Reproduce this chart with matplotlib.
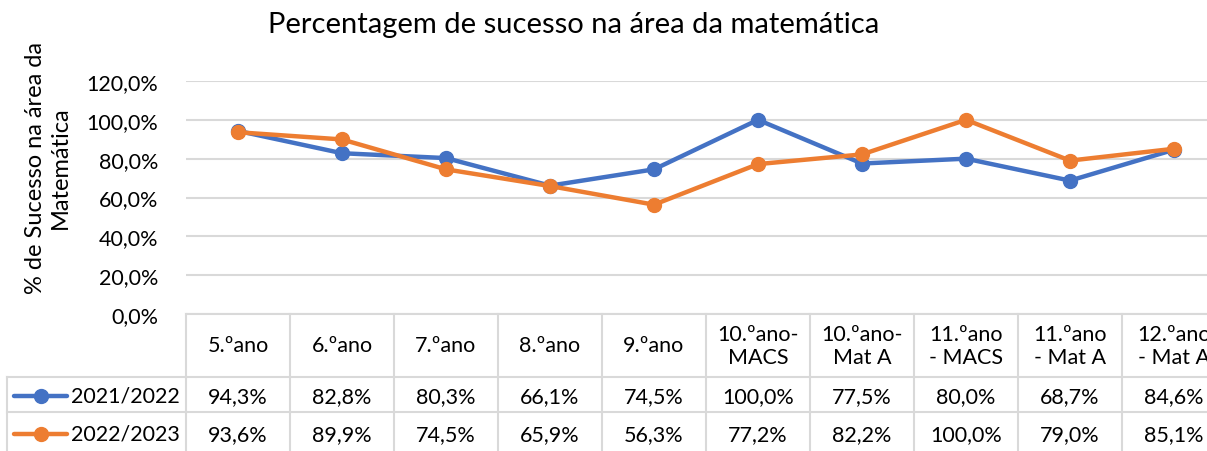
import matplotlib
matplotlib.use("Agg")
import matplotlib.pyplot as plt
from matplotlib.transforms import blended_transform_factory

plt.rcParams['font.family'] = ['Lato', 'DejaVu Sans']

categories = ["5.ºano", "6.ºano", "7.ºano", "8.ºano", "9.ºano",
              "10.ºano-\nMACS", "10.ºano-\nMat A", "11.ºano\n- MACS",
              "11.ºano\n- Mat A", "12.ºano\n- Mat A"]
series_names = ["2021/2022", "2022/2023"]
s2122 = [94.3, 82.8, 80.3, 66.1, 74.5, 100.0, 77.5, 80.0, 68.7, 84.6]
s2223 = [93.6, 89.9, 74.5, 65.9, 56.3, 77.2, 82.2, 100.0, 79.0, 85.1]
colors = ["#4472C4", "#ED7D31"]
yticks = [0, 20, 40, 60, 80, 100, 120]

W, H = 1207, 452
fig = plt.figure(figsize=(W / 100, H / 100), dpi=100)
fs = 15.5

# plot area in pixels: x from 186, category width 104 px; y 0% at 315, 120% at 82
left, cw = 186, 104
y0, y120 = 315, 82
ax = fig.add_axes([left / W, (H - y0) / H, len(categories) * cw / W, (y0 - y120) / H])
ax.set_xlim(-0.5, len(categories) - 0.5)
ax.set_ylim(0, 120)
ax.set_yticks(yticks)
ax.set_yticklabels([f"{v:.1f}%".replace(".", ",") for v in yticks], fontsize=fs)
ax.set_xticks([])
for s in ax.spines.values():
    s.set_visible(False)
ax.tick_params(axis="y", length=0, pad=20)
ax.grid(axis="y", color="#d9d9d9", linewidth=1.5)
ax.set_axisbelow(True)

x = list(range(len(categories)))
for vals, c in zip([s2122, s2223], colors):
    ax.plot(x, vals, color=c, linewidth=3.2, marker="o", markersize=10,
            solid_capstyle="round", zorder=3)

fx = lambda px: px / W
fy = lambda py: 1 - py / H

fig.text(fx(48), fy(168), "% de Sucesso na área da\nMatemática", fontsize=17,
         rotation=90, ha="center", va="center", linespacing=1.2)

fig.text(fx(574), fy(25), "Percentagem de sucesso na área da matemática",
         fontsize=21, ha="center", va="center")

# data table below the plot
tr = blended_transform_factory(ax.transData, fig.transFigure)
gc = "#d9d9d9"
row_top, row1, row2, row_bot = 315, 378, 413, 460
xr = len(categories) - 0.5
for i in range(len(categories) + 1):
    ax.plot([i - 0.5, i - 0.5], [fy(row_top), fy(row_bot)], transform=tr,
            color=gc, linewidth=1.5, clip_on=False)
ax.plot([-0.5, xr], [fy(row_top), fy(row_top)], transform=tr, color=gc,
        linewidth=1.5, clip_on=False)
for ry in (row1, row2):
    fig.add_artist(plt.Line2D([fx(7), fx(left)], [fy(ry), fy(ry)], color=gc, linewidth=1.5))
    ax.plot([-0.5, xr], [fy(ry), fy(ry)], transform=tr, color=gc,
            linewidth=1.5, clip_on=False)
fig.add_artist(plt.Line2D([fx(7), fx(7)], [fy(row1), fy(row_bot)], color=gc, linewidth=1.5))

for i, cat in enumerate(categories):
    ax.text(i, fy((row_top + row1) / 2), cat, transform=tr, ha="center",
            va="center", fontsize=fs, linespacing=1.2, clip_on=False)

for vals, name, c, ry in zip([s2122, s2223], series_names, colors, [397, 435]):
    for i, v in enumerate(vals):
        ax.text(i, fy(ry), f"{v:.1f}%".replace(".", ","), transform=tr,
                ha="center", va="center", fontsize=fs, clip_on=False)
    fig.add_artist(plt.Line2D([fx(14), fx(67)], [fy(ry), fy(ry)], color=c,
                              linewidth=3.2, solid_capstyle="round"))
    fig.add_artist(plt.Line2D([fx(41)], [fy(ry)], color=c, marker="o",
                              markersize=10, linestyle="none"))
    fig.text(fx(71), fy(ry), name, fontsize=fs, ha="left", va="center")

fig.savefig("out.png", dpi=100)
